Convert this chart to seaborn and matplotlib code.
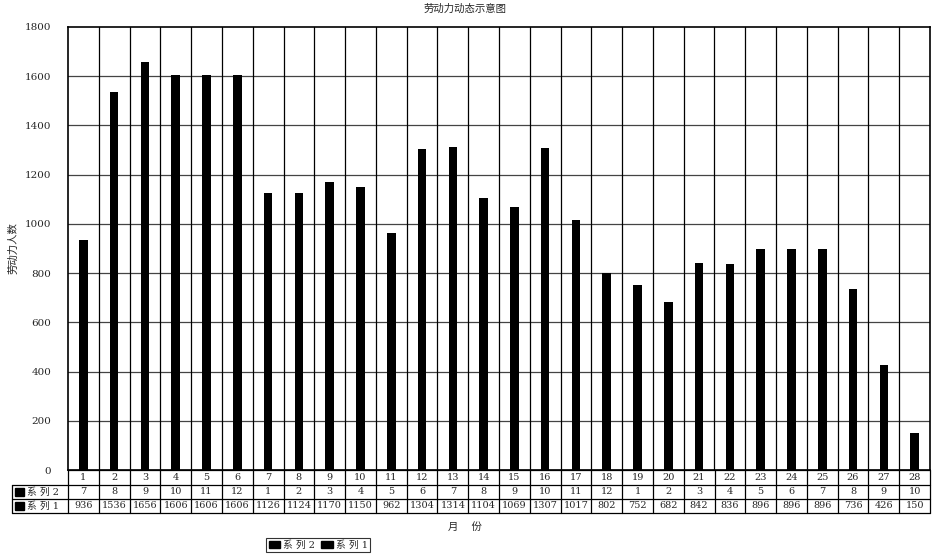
import matplotlib
matplotlib.use("Agg")
import matplotlib.pyplot as plt
import seaborn as sns
import pandas as pd
from matplotlib.lines import Line2D
from matplotlib.patches import Patch, Rectangle

categories = [str(i) for i in range(1, 29)]
series2 = [7, 8, 9, 10, 11, 12, 1, 2, 3, 4, 5, 6, 7, 8, 9, 10, 11, 12, 1, 2, 3, 4, 5, 6, 7, 8, 9, 10]
series1 = [936, 1536, 1656, 1606, 1606, 1606, 1126, 1124, 1170, 1150, 962, 1304, 1314, 1104,
           1069, 1307, 1017, 802, 752, 682, 842, 836, 896, 896, 896, 736, 426, 150]
yticks = [0, 200, 400, 600, 800, 1000, 1200, 1400, 1600, 1800]
title = "劳动力动态示意图"
ylabel = "劳动力人数"
xlabel = "月    份"
label_s1 = "系 列 1"
label_s2 = "系 列 2"

sns.set_theme(style="white")
plt.rcParams['font.family'] = ['DejaVu Serif', 'Noto Sans CJK SC']

W, H = 936, 554
fig = plt.figure(figsize=(W / 100, H / 100), dpi=100)
L, R, T, B = 68, 930, 27, 470
ax = fig.add_axes([L / W, 1 - B / H, (R - L) / W, (B - T) / H])

df = pd.DataFrame({"cat": categories, "val": series1})
sns.barplot(data=df, x="cat", y="val", color="black", width=0.28, ax=ax,
            saturation=1, edgecolor="black", linewidth=0, zorder=3)

ax.set_xlim(-0.5, len(categories) - 0.5)
ax.set_ylim(0, 1800)
ax.set_yticks(yticks)
ax.set_yticklabels([str(v) for v in yticks], fontsize=7.5)
ax.tick_params(axis='y', length=0, pad=12)
ax.set_xticks([])
ax.set_xlabel("")
ax.set_ylabel(ylabel, fontsize=7.5)
ax.yaxis.set_label_coords((18 - L) / (R - L), 0.5)
for v in yticks[1:-1]:
    ax.axhline(v, color="#444444", lw=0.9, zorder=1)
for k in range(len(categories) - 1):
    ax.axvline(k + 0.5, color="black", lw=0.9, zorder=1)
for s in ax.spines.values():
    s.set_color("black")
    s.set_linewidth(1.2)
    s.set_visible(True)

fig.text(465 / W, 1 - 9 / H, title, ha="center", va="center", fontsize=7.5)

def fx(px):
    return px / W
def fy(py):
    return 1 - py / H

cw = (R - L) / len(categories)
rows_y = [470, 485, 499, 513]
tl = 12
for i, y in enumerate(rows_y):
    x0 = L if i == 0 else tl
    fig.add_artist(Line2D([fx(x0), fx(R)], [fy(y), fy(y)], color="black", lw=0.9))
for k in range(len(categories) + 1):
    x = L + k * cw
    fig.add_artist(Line2D([fx(x), fx(x)], [fy(rows_y[0]), fy(rows_y[-1])], color="black", lw=0.9))
fig.add_artist(Line2D([fx(tl), fx(tl)], [fy(rows_y[1]), fy(rows_y[-1])], color="black", lw=0.9))

for k in range(len(categories)):
    cx = fx(L + (k + 0.5) * cw)
    fig.text(cx, fy((rows_y[0] + rows_y[1]) / 2), categories[k], ha="center", va="center", fontsize=7)
    fig.text(cx, fy((rows_y[1] + rows_y[2]) / 2), str(series2[k]), ha="center", va="center", fontsize=7)
    fig.text(cx, fy((rows_y[2] + rows_y[3]) / 2), str(series1[k]), ha="center", va="center", fontsize=7)

for lab, r in [(label_s2, 1), (label_s1, 2)]:
    yc = fy((rows_y[r] + rows_y[r + 1]) / 2)
    fig.add_artist(Rectangle((fx(15), yc - 4 / H), 9 / W, 8 / H,
                             transform=fig.transFigure, color="black"))
    fig.text(fx(27), yc, lab, ha="left", va="center", fontsize=7)

fig.text(465 / W, 1 - 527 / H, xlabel, ha="center", va="center", fontsize=7.5)

handles = [Patch(facecolor="black", edgecolor="black"), Patch(facecolor="black", edgecolor="black")]
leg = fig.legend(handles, [label_s2, label_s1], ncol=2, loc="center",
                 bbox_to_anchor=(318 / W, 1 - 545 / H), fontsize=7, frameon=True,
                 fancybox=False, edgecolor="black", handlelength=1.2, handleheight=0.8,
                 handletextpad=0.3, columnspacing=0.6, borderpad=0.25)
leg.get_frame().set_linewidth(0.8)

fig.savefig("out.png", dpi=100, facecolor="white")
